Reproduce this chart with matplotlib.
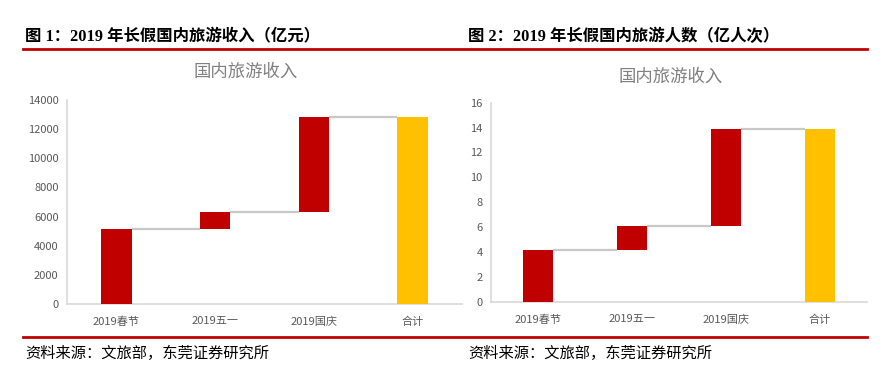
import matplotlib.pyplot as plt
from matplotlib.lines import Line2D

plt.rcParams['font.family'] = ['Noto Sans CJK SC', 'DejaVu Sans']

# 数据
categories = ['2019春节', '2019五一', '2019国庆', '合计']
income = [5139, 1177, 6497]          # 亿元
visitors = [4.15, 1.95, 7.82]        # 亿人次

RED = '#C00000'
YELLOW = '#FFC000'
GRAY_TXT = '#595959'


def waterfall(ax, steps, ymax, ystep):
    bottoms = []
    total = 0
    for v in steps:
        bottoms.append(total)
        total += v
    heights = list(steps) + [total]
    bottoms = bottoms + [0]
    colors = [RED] * len(steps) + [YELLOW]
    x = range(len(categories))
    w = 0.31
    ax.bar(x, heights, bottom=bottoms, width=w, color=colors, zorder=3)
    # 连接线
    tops = [b + h for b, h in zip(bottoms, heights)]
    for i in range(len(categories) - 1):
        ax.plot([i + w / 2, i + 1 - w / 2], [tops[i], tops[i]],
                color='#c8c8c8', lw=1.6, zorder=2, solid_capstyle='butt')
    ax.set_xlim(-0.5, len(categories) - 0.5)
    ax.set_ylim(0, ymax)
    ax.set_yticks(range(0, ymax + 1, ystep))
    ax.set_xticks(list(x))
    ax.set_xticklabels(categories)
    for s in ['top', 'right']:
        ax.spines[s].set_visible(False)
    for s in ['left', 'bottom']:
        ax.spines[s].set_color('#d9d9d9')
        ax.spines[s].set_linewidth(1.2)
    ax.tick_params(length=0, labelsize=8, colors=GRAY_TXT, pad=6)
    ax.tick_params(axis='x', pad=9)
    ax.set_facecolor('none')


fig = plt.figure(figsize=(8.87, 3.8), dpi=100)

ax1 = fig.add_axes([0.0755, 0.2, 0.4455, 0.5368])
waterfall(ax1, income, 14000, 2000)
ax2 = fig.add_axes([0.5535, 0.206, 0.4240, 0.5237])
waterfall(ax2, visitors, 16, 2)

# 图表标题
fig.text(246 / 887, 1 - 72 / 380, '国内旅游收入', ha='center', va='center',
         fontsize=12.5, color='#808080')
fig.text(671 / 887, 1 - 77 / 380, '国内旅游收入', ha='center', va='center',
         fontsize=12.5, color='#808080')

# 顶部标题
head_fam = ['Liberation Serif', 'Noto Sans CJK SC']
fig.text(25 / 887, 1 - 37 / 380, '图 1：2019 年长假国内旅游收入（亿元）',
         ha='left', va='center', fontsize=11.8, family=head_fam, weight='bold')
fig.text(468 / 887, 1 - 37 / 380, '图 2：2019 年长假国内旅游人数（亿人次）',
         ha='left', va='center', fontsize=11.8, family=head_fam, weight='bold')

# 红线
fig.add_artist(Line2D([23 / 887, 867 / 887], [1 - 49.3 / 380] * 2,
                      color=RED, lw=2, transform=fig.transFigure))
fig.add_artist(Line2D([23 / 887, 867 / 887], [1 - 337.3 / 380] * 2,
                      color=RED, lw=2, transform=fig.transFigure))

# 资料来源
fig.text(25 / 887, 1 - 353 / 380, '资料来源：文旅部，东莞证券研究所',
         ha='left', va='center', fontsize=11)
fig.text(468 / 887, 1 - 353 / 380, '资料来源：文旅部，东莞证券研究所',
         ha='left', va='center', fontsize=11)

fig.savefig('out.png', dpi=100)
